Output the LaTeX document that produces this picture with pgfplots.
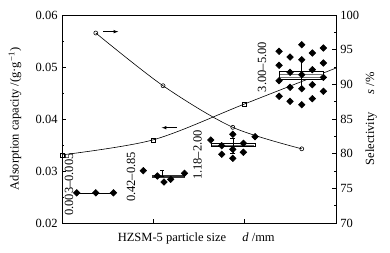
\documentclass[border=0pt]{standalone}
\usepackage{fontspec}
\setmainfont{Liberation Serif}
\usepackage{pgfplots}
\pgfplotsset{compat=1.18}
\begin{document}
\fontsize{12.5}{15}\selectfont
\begin{tikzpicture}
\useasboundingbox (-62pt,-29pt) rectangle (328pt,223pt);
\pgfplotsset{
  every axis/.append style={font=\fontsize{12.5}{15}\selectfont, line width=0.6pt},
  every tick/.style={black, line width=0.6pt},
}
\begin{axis}[
  at={(0pt,0pt)}, anchor=south west,
  scale only axis, width=274pt, height=208pt,
  xmin=0, xmax=3, ymin=0.02, ymax=0.06,
  scaled y ticks=false, scaled x ticks=false,
  xtick={1,2}, xticklabels={},
  ytick={0.02,0.03,0.04,0.05,0.06},
  yticklabels={0.02,0.03,0.04,0.05,0.06},
  minor y tick num=1,
  xtick pos=left, ytick pos=left,
  tick align=inside,
  major tick length=4pt, minor tick length=2.5pt,
  xlabel={HZSM-5 particle size\hspace{1.3em}\textit{d} /mm},
  xlabel style={at={(axis description cs:0.49,0)}, anchor=center, yshift=-15pt},
  ylabel={Adsorption capacity /(g·g\textsuperscript{−1})},
  ylabel style={at={(axis description cs:-0.1715,0.5)}, anchor=center},
  clip=false,
]
% adsorption capacity curve
\addplot[black, line width=0.6pt, smooth, mark=square, mark size=2pt, mark indices={1,2,3}, mark options={solid, fill=white}]
  coordinates {(0,0.0331)(1,0.0360)(2,0.0429)(3,0.0498)};
% group 1
\addplot[black, line width=0.6pt, mark=square*, mark size=2.3pt, mark options={rotate=45}]
  coordinates {(0.161,0.0258)(0.37,0.0258)(0.563,0.0258)};
% group 2 mean bar
\addplot[black!80, line width=3pt, mark=none] coordinates {(0.985,0.0290)(1.352,0.0290)};
\addplot[black, only marks, mark=square*, mark size=2.3pt, mark options={rotate=45}]
  coordinates {(0.89,0.03006)(1.044,0.02904)(1.117,0.02788)(1.19,0.0284)(1.341,0.02956)};
\addplot[black, line width=0.5pt, mark=none, error bars/.cd, y dir=both, y explicit,
  error mark options={rotate=90, black, mark size=2pt}]
  coordinates {(1.10,0.02955) +- (0,0.00055)};
% group 3 box
\addplot[black, line width=0.5pt, fill=white, mark=none]
  coordinates {(1.629,0.03467)(2.114,0.03467)(2.114,0.03533)(1.629,0.03533)(1.629,0.03467)};
\addplot[black!60, line width=0.5pt, mark=none] coordinates {(1.64,0.0350)(2.10,0.0350)};
\addplot[black, only marks, mark=square*, mark size=2.3pt, mark options={rotate=45}]
  coordinates {(1.629,0.03596)(1.749,0.03487)(1.870,0.03706)(1.870,0.03417)(1.749,0.03321)
               (1.870,0.03244)(1.986,0.03533)(1.986,0.0336)(2.114,0.0366)};
\addplot[black, line width=0.5pt, mark=none, error bars/.cd, y dir=both, y explicit,
  error mark options={rotate=90, black, mark size=2.5pt}]
  coordinates {(1.870,0.03485) +- (0,0.00145)};
% group 4 box
\addplot[black, line width=0.5pt, fill=white, mark=none]
  coordinates {(2.377,0.04756)(2.859,0.04756)(2.859,0.04917)(2.377,0.04917)(2.377,0.04756)};
\addplot[black!55, line width=0.5pt, mark=none] coordinates {(2.39,0.04865)(2.846,0.04865)};
\addplot[black!55, line width=0.5pt, mark=none] coordinates {(2.39,0.04802)(2.846,0.04802)};
\addplot[black, only marks, mark=square*, mark size=2.3pt, mark options={rotate=45}]
  coordinates {(2.377,0.05302)(2.377,0.05033)(2.377,0.04737)(2.377,0.04437)
               (2.497,0.05192)(2.497,0.04898)(2.497,0.0461)(2.497,0.0434)
               (2.625,0.05429)(2.625,0.0514)(2.625,0.04852)(2.625,0.04583)(2.625,0.04275)
               (2.741,0.05269)(2.741,0.04948)(2.741,0.0466)(2.741,0.0439)
               (2.862,0.05365)(2.862,0.05077)(2.862,0.0480)(2.862,0.04533)};
\addplot[black, line width=0.6pt, mark=none] coordinates {(2.625,0.0514)(2.625,0.04583)};
% range labels
\node[rotate=90, anchor=center] at (axis cs:0.077,0.0274) {0.003–0.005};
\node[rotate=90, anchor=center] at (axis cs:0.756,0.02885) {0.42–0.85};
\node[rotate=90, anchor=center] at (axis cs:1.484,0.0331) {1.18–2.00};
\node[rotate=90, anchor=center] at (axis cs:2.19,0.0500) {3.00–5.00};
% arrow to left axis
\draw[-latex, line width=0.6pt] (axis cs:1.256,0.03833) -- (axis cs:1.092,0.03833);
\end{axis}
\begin{axis}[
  at={(0pt,0pt)}, anchor=south west,
  scale only axis, width=274pt, height=208pt,
  xmin=0, xmax=3, ymin=70, ymax=100,
  axis y line*=right, axis x line=none,
  ytick={70,75,80,85,90,95,100},
  yticklabels={70,75,80,85,90,95,100},
  minor y tick num=1,
  tick align=inside,
  major tick length=4pt, minor tick length=2.5pt,
  ylabel={Selectivity\hspace{1.4em}\textit{s} /\%},
  ylabel style={at={(axis description cs:1.128,0.5)}, anchor=center},
  clip=false,
]
\addplot[black, line width=0.6pt, smooth, mark=o, mark size=2pt, mark options={solid, fill=white}]
  coordinates {(0.37,97.4)(1.106,89.8)(1.87,83.8)(2.625,80.7)};
\draw[-latex, line width=0.6pt] (axis cs:0.451,97.6) -- (axis cs:0.616,97.6);
\end{axis}
\end{tikzpicture}
\end{document}
